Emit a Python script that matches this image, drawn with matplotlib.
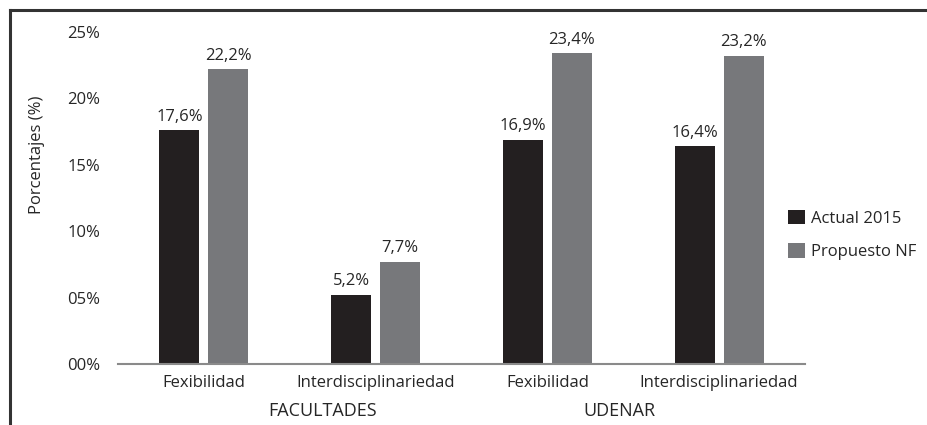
import matplotlib
matplotlib.use("Agg")
import matplotlib.pyplot as plt
import numpy as np
from matplotlib.lines import Line2D
from matplotlib.transforms import blended_transform_factory

categories = ["Fexibilidad", "Interdisciplinariedad", "Fexibilidad", "Interdisciplinariedad"]
groups = ["FACULTADES", "UDENAR"]
group_pos = [0.69, 2.42]
actual_2015 = [17.6, 5.2, 16.9, 16.4]
propuesto_nf = [22.2, 7.7, 23.4, 23.2]
series_names = ["Actual 2015", "Propuesto NF"]
yticks = [0, 5, 10, 15, 20, 25]
ytick_labels = ["00%", "05%", "10%", "15%", "20%", "25%"]

plt.rcParams["font.family"] = ["Open Sans", "DejaVu Sans"]
txt = "#262626"
fs = 12

W, H = 927, 425
fig = plt.figure(figsize=(W / 100, H / 100), dpi=100)
ax = fig.add_axes([118 / W, 1 - 364 / H, (805 - 118) / W, (364 - 32) / H])

x = np.arange(len(categories))
bw = 0.233
off = 0.142
b1 = ax.bar(x - off, actual_2015, bw, color="#231f20", label=series_names[0])
b2 = ax.bar(x + off, propuesto_nf, bw, color="#77787b", label=series_names[1])

for bars in (b1, b2):
    for rect in bars:
        h = rect.get_height()
        ax.annotate(f"{h:.1f}%".replace(".", ","),
                    (rect.get_x() + rect.get_width() / 2, h),
                    xytext=(0, 4), textcoords="offset points",
                    ha="center", va="bottom", fontsize=fs, color=txt)

ax.set_xlim(-0.5, 3.5)
ax.set_ylim(0, 25)
ax.set_yticks(yticks)
ax.set_yticklabels(ytick_labels, fontsize=fs, color=txt)
ax.set_xticks(x)
ax.set_xticklabels(categories, fontsize=fs, color=txt)
ax.tick_params(axis="y", length=0, pad=13)
ax.tick_params(axis="x", length=0, pad=8)

for s in ["top", "right", "left"]:
    ax.spines[s].set_visible(False)
ax.spines["bottom"].set_color("#8a8a8a")
ax.spines["bottom"].set_linewidth(1.5)

trans = blended_transform_factory(ax.transData, fig.transFigure)
for g, gp in zip(groups, group_pos):
    ax.text(gp, 1 - 411 / H, g, transform=trans, ha="center", va="center",
            fontsize=13, color=txt)

fig.text(37 / W, 1 - 155 / H, "Porcentajes (%)", rotation=90,
         ha="center", va="center", fontsize=fs, color=txt)

ax.legend(loc="center left", bbox_to_anchor=(788 / W, 1 - 235 / H),
          bbox_transform=fig.transFigure, frameon=False, fontsize=fs,
          handlelength=1.0, handleheight=1.0, handletextpad=0.4,
          labelspacing=1.0, borderpad=0, borderaxespad=0, labelcolor=txt)

# outer frame (top and left edges)
fig.add_artist(Line2D([10 / W, 1], [1 - 10 / H, 1 - 10 / H], color="#333333",
                      lw=2.2, transform=fig.transFigure))
fig.add_artist(Line2D([10 / W, 10 / W], [0, 1 - 10 / H], color="#333333",
                      lw=2.2, transform=fig.transFigure))

fig.savefig("out.png", dpi=100)
